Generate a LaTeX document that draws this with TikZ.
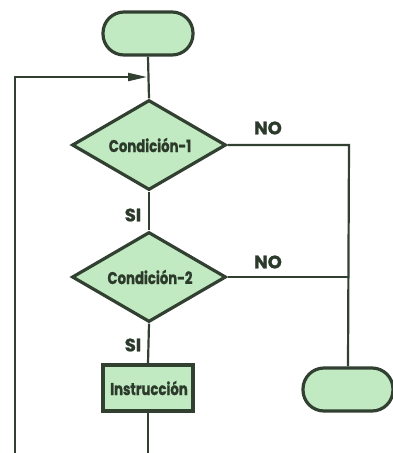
\documentclass[tikz,border=0pt]{standalone}
\usepackage{fontspec}
\setmainfont{Poppins}[BoldFont=* Bold, BoldFeatures={FakeBold=1.2}]
\usetikzlibrary{shapes.geometric,arrows.meta}
\definecolor{fillg}{RGB}{194,234,194}
\definecolor{edgeg}{RGB}{50,64,50}
\definecolor{txtg}{RGB}{44,58,44}
\tikzset{
  shapeline/.style={draw=edgeg,line width=3.2pt,fill=fillg},
  term/.style={shapeline,rounded corners=21pt,minimum width=90pt,minimum height=43pt,inner sep=0pt},
  cond/.style={shapeline,diamond,minimum width=154pt,minimum height=90pt,inner sep=0pt,aspect=1.7},
  proc/.style={shapeline,minimum width=90pt,minimum height=46pt,inner sep=0pt},
  conn/.style={draw=edgeg,line width=2.2pt},
  lbl/.style={text=txtg,font=\bfseries\fontsize{18}{18}\selectfont},
  inlbl/.style={text=txtg,font=\bfseries\fontsize{17}{17}\selectfont}
}
\begin{document}
\begin{tikzpicture}[x=1pt,y=-1pt]
\useasboundingbox (0,0) rectangle (392,453);
\node[term] (start) at (148,33.5) {};
\coordinate (merge) at (147,77);
\coordinate (loopTop) at (15,77);
\coordinate (loopBot) at (15,453);
\node[cond] (c1) at (149,145) {};
\node[cond] (c2) at (149,277) {};
\node[proc] (ins) at (148,388) {};
\node[inlbl] (t1) at (150,145) {\scalebox{0.78}[1]{Condición-1}};
\node[inlbl] (t2) at (150,277) {\scalebox{0.78}[1]{Condición-2}};
\node[inlbl] (t3) at (149,388) {\scalebox{0.78}[1]{Instrucción}};
\node[term] (endt) at (348,389.5) {};
\coordinate (r1) at (349,145);
\coordinate (r2) at (349,277);
\coordinate (bot) at (148,453);
\draw[conn] (start.south) -- (c1.north);
\draw[conn,-{Triangle[length=19pt,width=8pt]}] (loopBot) -- (loopTop) -- (merge);
\draw[conn] (c1.south) -- (c2.north);
\draw[conn] (c2.south) -- (ins.north);
\draw[conn] (ins.south) -- (bot);
\draw[conn] (c1.east) -- (r1) -- (endt.north);
\draw[conn] (c2.east) -- (r2);
\node[lbl] (no1) at (268,128) {NO};
\node[lbl] (no2) at (268,262) {NO};
\node[lbl] (si1) at (133,215) {SI};
\node[lbl] (si2) at (133,345) {SI};
\end{tikzpicture}
\end{document}
